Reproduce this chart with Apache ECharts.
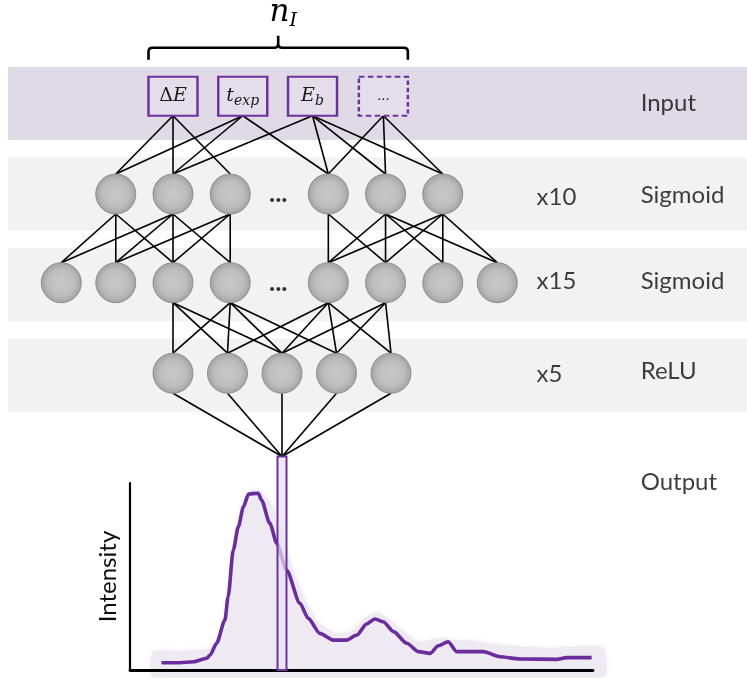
<!DOCTYPE html>
<html><head><meta charset="utf-8">
<script src="https://cdn.jsdelivr.net/npm/echarts@6/dist/echarts.min.js"></script>
<style>html,body{margin:0;padding:0;background:#fff}#c{width:747px;height:678px}</style>
</head><body><div id="c"></div>
<script>
// ---------------- data ----------------
const inputLabels = ['{u|Δ}{i|E}', '{i|t}{s|exp}', '{i|E}{s|b}', '{d|...}'];
const inputDashed = [false, false, false, true];
const inputPos = [2, 3.28, 4.56, 5.86];
const hidden1Pos = [0.95, 2, 3.05, 4.85, 5.9, 6.95];
const hidden2Pos = [-0.05, 0.95, 2, 3.05, 4.85, 5.9, 6.95, 7.95];
const reluPos = [2, 3, 4, 5, 6];
const ellipsisPos = 3.94;
const outputPos = 4;
const layerDepth = [-0.08, 1, 1.98, 2.98, 3.9];   // input, hidden1, hidden2, relu, output
const outputBottomDepth = 6.26;
const bandDepth = [0, 1, 2, 3];
const layerNames = ['Input', 'Sigmoid', 'Sigmoid', 'ReLU', 'Output'];
const layerNameDepth = [0, 1.02, 1.97, 2.96, 4.19];
const layerSizes = ['x10', 'x15', 'x5'];
const layerSizeDepth = [1.04, 1.97, 3.0];
const braceLabel = '{n|n}{s|I}';
// connections (target indices per source node)
const inToH1 = [[0, 1, 2], [0, 1, 3], [1, 3, 4, 5], [3, 4, 5]];
const h1ToH2 = [[0, 1, 2], [0, 1, 2, 3], [1, 2, 3], [4, 5], [4, 5, 6, 7], [4, 5, 6, 7]];
const h2ToRelu = [[], [], [0, 1, 2], [0, 1, 2, 3], [1, 2, 3, 4], [2, 3, 4], [], []];
// output spectrum
const energy = [6.8, 10.8, 13.7, 16.6, 17.3, 18.7, 20.5, 21.2, 22.3, 23.4, 24.5, 25.6, 27.7, 28.4, 30.2, 31.7, 33.8, 36.7, 38.5, 41.0, 43.9, 46.8, 49.0, 51.1, 52.9, 54.7, 56.9, 59.8, 62.3, 64.8, 66.6, 68.7, 70.6, 76.3, 79.9, 84.2, 92.2, 94.3, 99.7];
const intensity = [3.9, 3.9, 4.4, 6.3, 8.0, 14.3, 26.7, 39.2, 64.2, 76.6, 87.3, 94.1, 94.5, 90.9, 78.4, 67.8, 53.5, 35.7, 27.6, 19.6, 16.0, 16.0, 18.7, 24.6, 27.3, 25.8, 20.5, 14.3, 9.8, 8.9, 13.0, 15.1, 9.8, 9.8, 7.1, 5.9, 5.7, 6.6, 6.6];
const shadeEnergy = [5.0, 10.8, 17.3, 19.9, 21.2, 22.0, 23.3, 24.8, 26.3, 28.5, 30.7, 33.5, 35.6, 37.8, 40.6, 44.3, 47.5, 50.8, 53.3, 56.2, 59.4, 62.6, 67.0, 70.2, 74.5, 79.9, 90.7, 102.2];
const shadeIntensity = [9.6, 10.2, 11.8, 21.4, 37.4, 58.8, 77.5, 90.9, 96.3, 95.2, 88.2, 66.8, 50.8, 37.4, 25.7, 19.8, 20.3, 27.8, 31.0, 26.7, 19.8, 15.0, 17.1, 16.0, 15.5, 13.4, 11.8, 11.8];
const yAxisName = 'Intensity';

// ---------------- layout / styles ----------------
const PURPLE = '#7030A0';
const TXT = '#0d0d0d';
const nameColumn = 10.59, sizeColumn = 8.68, bandLeft = -1.03;
const NODE_R = 20, BOX_W = 49, BOX_H = 39;

const nodeColor = {
  type: 'radial', x: 0.5, y: 0.5, r: 0.5,
  colorStops: [{offset: 0, color: '#C9C9C9'}, {offset: 0.65, color: '#BDBDBD'}, {offset: 1, color: '#A2A2A2'}]
};

// edges: [x1, d1, x2, d2, srcOffset, dstOffset]
const edges = [];
inToH1.forEach((t, i) => t.forEach(j => edges.push([inputPos[i], layerDepth[0], hidden1Pos[j], layerDepth[1], BOX_H / 2, NODE_R])));
h1ToH2.forEach((t, i) => t.forEach(j => edges.push([hidden1Pos[i], layerDepth[1], hidden2Pos[j], layerDepth[2], NODE_R, NODE_R])));
h2ToRelu.forEach((t, i) => t.forEach(j => edges.push([hidden2Pos[i], layerDepth[2], reluPos[j], layerDepth[3], NODE_R, NODE_R])));
reluPos.forEach(x => edges.push([x, layerDepth[3], outputPos, layerDepth[4], NODE_R, 0]));

const nodes = [];
hidden1Pos.forEach(x => nodes.push([x, layerDepth[1]]));
hidden2Pos.forEach(x => nodes.push([x, layerDepth[2]]));
reluPos.forEach(x => nodes.push([x, layerDepth[3]]));

const lato = 'Lato';
const serif = 'DejaVu Serif';

const option = {
  animation: false,
  backgroundColor: '#fff',
  grid: [
    {left: 9.5, top: 13, width: 735.75, height: 633.5},
    {left: 130, top: 483, width: 463, height: 187}
  ],
  xAxis: [
    {gridIndex: 0, type: 'value', min: -1, max: 12.5, show: false},
    {gridIndex: 1, type: 'value', min: 0, max: 100, z: 5,
      axisLine: {show: true, lineStyle: {color: '#000', width: 2.8}},
      axisTick: {show: false}, axisLabel: {show: false}, splitLine: {show: false}}
  ],
  yAxis: [
    {gridIndex: 0, type: 'value', min: -1, max: 6, inverse: true, show: false},
    {gridIndex: 1, type: 'value', min: 0, max: 100, z: 5,
      axisLine: {show: true, lineStyle: {color: '#000', width: 2.2}},
      axisTick: {show: false}, axisLabel: {show: false}, splitLine: {show: false},
      name: yAxisName, nameLocation: 'middle', nameRotate: 90, nameGap: 10,
      nameTextStyle: {fontFamily: lato, fontSize: 24, color: TXT}}
  ],
  series: [
    { // bands
      type: 'custom', xAxisIndex: 0, yAxisIndex: 0, z: 0, silent: true,
      data: bandDepth.map(d => [0, d]),
      renderItem: (params, api) => {
        const d = api.value(1);
        const top = api.coord([0, d - 0.403])[1];
        const bot = api.coord([0, d + 0.403])[1];
        const left = api.coord([bandLeft, d])[0];
        return {type: 'rect', shape: {x: left, y: top, width: api.getWidth() - left, height: bot - top},
          style: {fill: params.dataIndex === 0 ? '#E0DAE7' : '#F2F2F2'}};
      }
    },
    { // connections
      type: 'custom', xAxisIndex: 0, yAxisIndex: 0, z: 1, silent: true,
      data: edges,
      renderItem: (params, api) => {
        const p1 = api.coord([api.value(0), api.value(1)]);
        const p2 = api.coord([api.value(2), api.value(3)]);
        return {type: 'line', shape: {x1: p1[0], y1: p1[1] + api.value(4), x2: p2[0], y2: p2[1] - api.value(5)},
          style: {stroke: '#000', lineWidth: 1.6}};
      }
    },
    { // neurons
      type: 'scatter', xAxisIndex: 0, yAxisIndex: 0, z: 2, silent: true,
      symbol: 'circle', symbolSize: NODE_R * 2, data: nodes,
      itemStyle: {color: nodeColor, borderColor: '#8E8E8E', borderWidth: 1, opacity: 1}
    },
    { // input boxes
      type: 'scatter', xAxisIndex: 0, yAxisIndex: 0, z: 3, silent: true,
      symbol: 'rect', symbolSize: [BOX_W, BOX_H],
      data: inputPos.map((x, i) => ({
        value: [x, layerDepth[0]],
        itemStyle: {borderType: inputDashed[i] ? [5, 3] : 'solid'},
        label: {formatter: inputLabels[i]}
      })),
      itemStyle: {color: '#E3DEEA', borderColor: PURPLE, borderWidth: 2.2, opacity: 1},
      label: {show: true, position: 'inside', color: '#1a1a1a',
        rich: {
          u: {fontFamily: serif, fontSize: 19, lineHeight: 24, color: '#1a1a1a'},
          i: {fontFamily: serif, fontStyle: 'italic', fontSize: 19, lineHeight: 24, color: '#1a1a1a'},
          s: {fontFamily: serif, fontStyle: 'italic', fontSize: 14, lineHeight: 10, verticalAlign: 'bottom', color: '#1a1a1a'},
          d: {fontFamily: serif, fontSize: 13, lineHeight: 24, color: '#1a1a1a'}
        }}
    },
    { // brace with n_I
      type: 'custom', xAxisIndex: 0, yAxisIndex: 0, z: 3, silent: true,
      data: [[inputPos[0], layerDepth[0]]],
      renderItem: (params, api) => {
        const a = api.coord([inputPos[0], layerDepth[0]]);
        const b = api.coord([inputPos[inputPos.length - 1], layerDepth[0]]);
        const L = a[0] - BOX_W / 2, R = b[0] + BOX_W / 2, M = (L + R) / 2;
        const boxTop = a[1] - BOX_H / 2;
        const tip = boxTop - 17, bar = boxTop - 29, peak = boxTop - 41;
        const path = `M${L},${tip} L${L},${bar + 4} Q${L},${bar} ${L + 4},${bar} L${M - 4},${bar} Q${M},${bar} ${M},${bar - 4} L${M},${peak} M${M},${bar - 4} Q${M},${bar} ${M + 4},${bar} L${R - 4},${bar} Q${R},${bar} ${R},${bar + 4} L${R},${tip}`;
        return {type: 'group', children: [
          {type: 'path', shape: {pathData: path}, style: {stroke: '#000', lineWidth: 2.6, fill: null}},
          {type: 'text', x: M + 5, y: peak - 23, style: {text: braceLabel, align: 'center', verticalAlign: 'middle',
            rich: {
              n: {fontFamily: serif, fontStyle: 'italic', fontSize: 31, lineHeight: 36, fill: '#000'},
              s: {fontFamily: serif, fontStyle: 'italic', fontSize: 19, lineHeight: 18, verticalAlign: 'bottom', fill: '#000'}
            }}}
        ]};
      }
    },
    { // ellipsis between neurons
      type: 'scatter', xAxisIndex: 0, yAxisIndex: 0, z: 3, silent: true,
      symbolSize: 1, itemStyle: {color: 'rgba(0,0,0,0)'},
      data: [[ellipsisPos, layerDepth[1]], [ellipsisPos, layerDepth[2]]],
      label: {show: true, formatter: '...', position: [0, 0], align: 'center', verticalAlign: 'middle',
        fontFamily: lato, fontWeight: 'bold', fontSize: 26, color: '#000'}
    },
    { // layer names
      type: 'scatter', xAxisIndex: 0, yAxisIndex: 0, z: 3, silent: true,
      symbolSize: 1, itemStyle: {color: 'rgba(0,0,0,0)'},
      data: layerNames.map((n, i) => ({name: n, value: [nameColumn, layerNameDepth[i]]})),
      label: {show: true, formatter: '{b}', position: [0, 0], align: 'left', verticalAlign: 'middle',
        fontFamily: lato, fontSize: 24, color: TXT}
    },
    { // layer sizes
      type: 'scatter', xAxisIndex: 0, yAxisIndex: 0, z: 3, silent: true,
      symbolSize: 1, itemStyle: {color: 'rgba(0,0,0,0)'},
      data: layerSizes.map((n, i) => ({name: n, value: [sizeColumn, layerSizeDepth[i]]})),
      label: {show: true, formatter: '{b}', position: [0, 0], align: 'left', verticalAlign: 'middle',
        fontFamily: lato, fontSize: 24, color: TXT}
    },
    { // spectrum shade
      type: 'custom', xAxisIndex: 1, yAxisIndex: 1, z: 1, silent: true,
      data: [[shadeEnergy[0], 0]],
      renderItem: (params, api) => {
        const pts = shadeEnergy.map((e, i) => api.coord([e, shadeIntensity[i]]));
        const base = api.coord([0, 0])[1] + 7;
        pts.push([pts[pts.length - 1][0], base]);
        pts.push([pts[0][0], base]);
        return {type: 'polygon', shape: {points: pts, smooth: 0.2},
          style: {fill: '#EEEAF2', shadowBlur: 5, shadowColor: '#EEEAF2'}};
      }
    },
    { // spectrum curve
      type: 'line', xAxisIndex: 1, yAxisIndex: 1, z: 4, silent: true,
      data: energy.map((e, i) => [e, intensity[i]]),
      symbol: 'none', smooth: 0.25, smoothMonotone: 'x',
      lineStyle: {color: '#6B2D9E', width: 3.6}
    },
    { // output bin box
      type: 'custom', xAxisIndex: 0, yAxisIndex: 0, z: 6, silent: true,
      data: [[outputPos, layerDepth[4]]],
      renderItem: (params, api) => {
        const t = api.coord([outputPos, layerDepth[4]]);
        const b = api.coord([outputPos, outputBottomDepth]);
        return {type: 'rect', shape: {x: t[0] - 4.5, y: t[1], width: 9, height: b[1] - t[1]},
          style: {fill: 'rgba(232,226,240,0.72)', stroke: PURPLE, lineWidth: 2}};
      }
    }
  ]
};

const chart = echarts.init(document.getElementById('c'), null, {renderer: 'canvas'});
chart.setOption(option);
</script>
</body></html>
